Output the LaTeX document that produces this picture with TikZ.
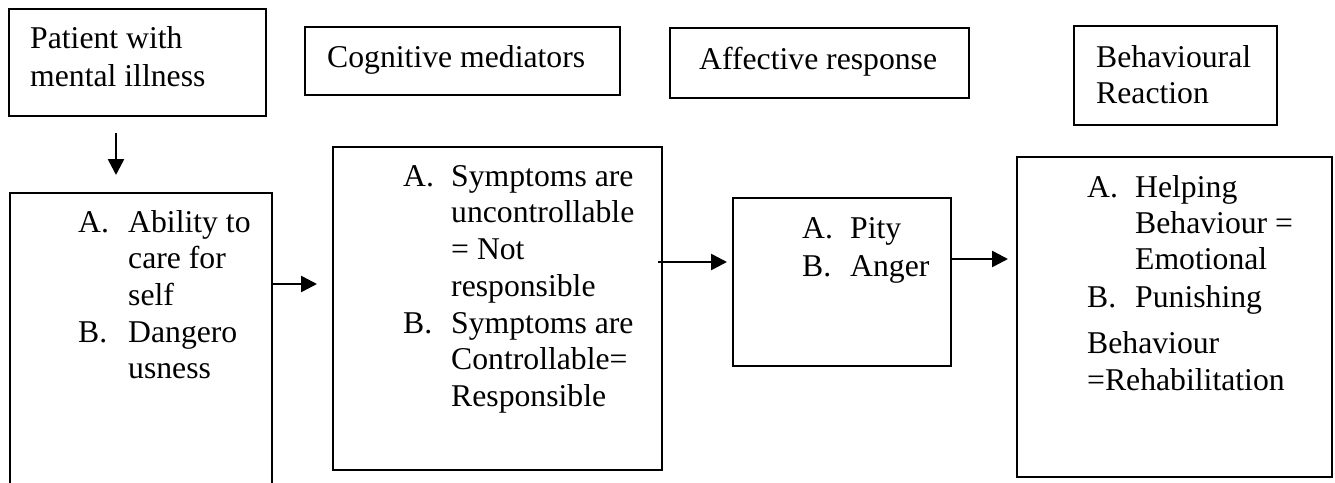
\documentclass[tikz,border=0pt]{standalone}
\usepackage{fontspec}
\setmainfont{Liberation Serif}
\usetikzlibrary{arrows.meta}
\begin{document}
\begin{tikzpicture}[x=1pt,y=-1pt,
  box/.style={draw, line width=2.2pt, inner sep=0pt, outer sep=0pt},
  txt/.style={inner sep=0pt, anchor=base west, font=\fontsize{31.7}{37}\selectfont},
  arr/.style={line width=2.6pt, -{Triangle[length=16pt,width=16pt]}}]
\useasboundingbox (0,0) rectangle (1335,482);
\clip (0,0) rectangle (1335,482);
% header boxes
\node[box, minimum width=257pt, minimum height=107pt] (pat) at (137.5,62.5) {};
\node[box, minimum width=315pt, minimum height=68pt] (cog) at (462.5,61) {};
\node[box, minimum width=299pt, minimum height=70pt] (aff) at (819.5,63) {};
\node[box, minimum width=203pt, minimum height=99pt] (beh) at (1175.5,75.5) {};
% content boxes
\node[box, minimum width=262pt, minimum height=327pt] (b2) at (141,356.5) {};
\node[box, minimum width=329pt, minimum height=323pt] (b3) at (497.5,308.5) {};
\node[box, minimum width=218pt, minimum height=168pt] (b4) at (842,282) {};
\node[box, minimum width=315pt, minimum height=320pt] (b5) at (1174.5,317) {};
% header texts
\node[txt] (t1a) at (30,48) {Patient with};
\node[txt] (t1b) at (30,86) {mental illness};
\node[txt] (t2) at (327,67) {Cognitive mediators};
\node[txt] (t3) at (699,69) {Affective response};
\node[txt] (t4a) at (1096,67) {Behavioural};
\node[txt] (t4b) at (1096,103) {Reaction};
% box 2
\node[txt] (b2A) at (78,232) {A.};
\node[txt] (b2B) at (78,342) {B.};
\foreach \t/\yy [count=\i] in {Ability to/232,care for/268,self/305,Dangero/342,usness/378}
  \node[txt] (b2l\i) at (128,\yy) {\t};
% box 3
\node[txt] (b3A) at (403,186) {A.};
\node[txt] (b3B) at (403,333) {B.};
\foreach \t/\yy [count=\i] in {Symptoms are/186,uncontrollable/222.6,= Not/259.4,responsible/296,Symptoms are/333,Controllable=/369.6,Responsible/406.4}
  \node[txt] (b3l\i) at (451,\yy) {\t};
% box 4
\node[txt] (b4A) at (802,238) {A.};
\node[txt] (b4B) at (802,276) {B.};
\node[txt] (b4l1) at (850,238) {Pity};
\node[txt] (b4l2) at (850,276) {Anger};
% box 5
\node[txt] (b5A) at (1087,197) {A.};
\node[txt] (b5B) at (1087,307) {B.};
\foreach \t/\yy [count=\i] in {Helping/197,Behaviour =/233,Emotional/269,Punishing/307}
  \node[txt] (b5l\i) at (1135,\yy) {\t};
\node[txt] (b5l5) at (1087,353) {Behaviour};
\node[txt] (b5l6) at (1087,390) {=Rehabilitation};
% connectors
\draw[arr, shorten <=17pt, shorten >=18pt] (pat.south -| 116,0) -- (b2.north -| 116,0);
\draw[arr, shorten >=16pt] (b2.east |- 0,284) -- (b3.west |- 0,284);
\draw[arr, shorten <=-4pt, shorten >=6pt] (b3.east |- 0,262) -- (b4.west |- 0,262);
\draw[arr, shorten >=9pt] (b4.east |- 0,259) -- (b5.west |- 0,259);
\end{tikzpicture}
\end{document}
